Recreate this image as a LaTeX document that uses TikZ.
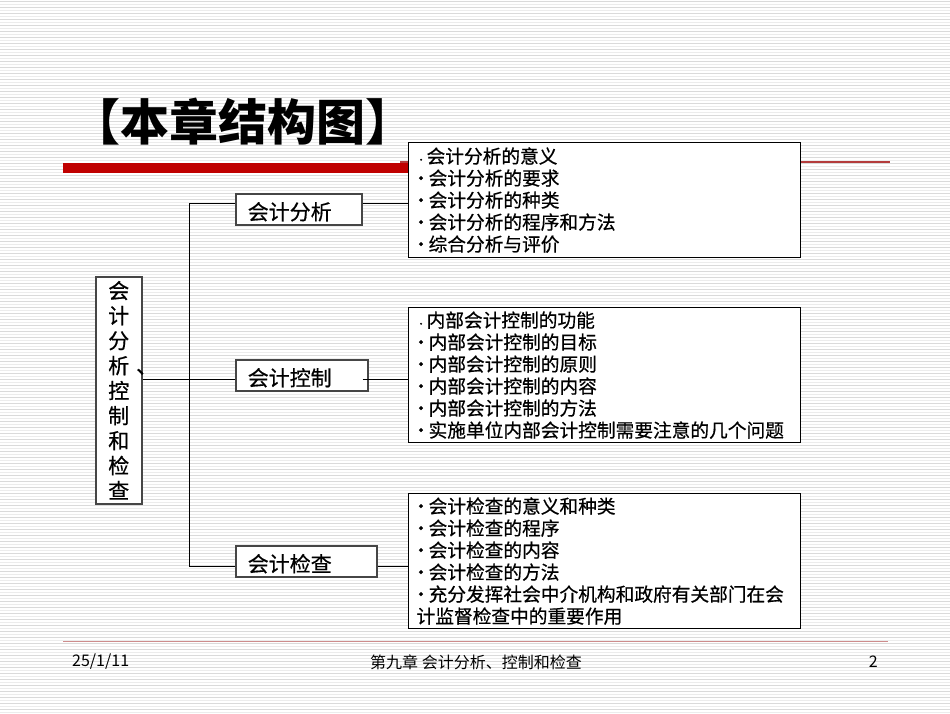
\documentclass[tikz,border=0pt]{standalone}
\usepackage{fontspec}
\setmainfont{Noto Sans CJK SC}
\newfontfamily\hv{Noto Sans CJK SC}[FakeBold=0.6]
\definecolor{barred}{RGB}{192,0,0}
\definecolor{thinred}{RGB}{180,60,60}
\definecolor{footred}{RGB}{205,140,140}
\definecolor{stripeA}{RGB}{218,218,218}
\definecolor{stripeB}{RGB}{236,236,236}
\definecolor{subborder}{RGB}{70,70,70}
\newcommand\bl{\makebox[12pt][l]{\hspace{-5pt}·}}
\newcommand\sbl{\makebox[10pt][l]{\fontsize{9}{9}\selectfont·}}
\tikzset{
  listbox/.style={draw=black, line width=1.2pt, fill=white, anchor=north west,
    minimum width=392pt, inner xsep=8pt, inner ysep=1pt, text width=376pt, align=left,
    font=\hv\fontsize{18.7}{22}\selectfont},
  subbox/.style={draw=subborder, line width=1.5pt, fill=white, anchor=north west,
    minimum height=31pt, inner xsep=12pt, inner ysep=0.5pt, align=left,
    text height=24pt, text depth=3pt, font=\hv\fontsize{21}{24}\selectfont},
  mainbox/.style={draw=subborder, line width=1.5pt, fill=white, anchor=north west,
    minimum width=46pt, minimum height=227pt, inner sep=0pt, align=center,
    font=\hv\fontsize{21}{25}\selectfont},
  conn/.style={draw=black, line width=1pt},
}
\begin{document}
\begin{tikzpicture}[x=1pt,y=-1pt]
\useasboundingbox (0,0) rectangle (950,713);
\fill[white] (0,0) rectangle (950,713);
\foreach \yy in {1.5,7.5,...,713} \draw[stripeA, line width=1pt] (0,\yy) -- (950,\yy);
\foreach \yy in {4.5,10.5,...,713} \draw[stripeB, line width=1pt] (0,\yy) -- (950,\yy);

% title and red bar
\fill[barred] (63,163) rectangle (412,173);
\draw[thinred, line width=1.3pt] (400,162) -- (890,162);
\node[anchor=west, inner sep=0pt, font=\fontsize{49}{52}\selectfont\bfseries] (title) at (71,122) {【本章结构图】};

% content boxes
\node[listbox, minimum height=115pt] (la) at (408,142) {\sbl 会计分析的意义\\ \bl 会计分析的要求\\ \bl 会计分析的种类\\ \bl 会计分析的程序和方法\\ \bl 综合分析与评价};
\node[listbox, minimum height=135pt] (lc) at (408,307) {\sbl 内部会计控制的功能\\ \bl 内部会计控制的目标\\ \bl 内部会计控制的原则\\ \bl 内部会计控制的内容\\ \bl 内部会计控制的方法\\ \bl 实施单位内部会计控制需要注意的几个问题};
\node[listbox, minimum height=135pt] (le) at (408,493) {\bl 会计检查的意义和种类\\ \bl 会计检查的程序\\ \bl 会计检查的内容\\ \bl 会计检查的方法\\ \bl 充分发挥社会中介机构和政府有关部门在会\\ 计监督检查中的重要作用};

% sub boxes
\node[subbox, minimum width=126pt, text width=102pt] (sa) at (235,193) {会计分析};
\node[subbox, minimum width=132pt, text width=108pt] (sc) at (235,359) {会计控制};
\node[subbox, minimum width=141pt, text width=117pt] (se) at (235,545) {会计检查};

% main box
\node[mainbox] (main) at (95,276) {会\\计\\分\\析\rlap{\hspace{7pt}、}\\控\\制\\和\\检\\查};

% connectors
\coordinate (ja) at (189,203);
\coordinate (jc) at (189,379);
\coordinate (je) at (189,566);
\draw[conn] (main.east |- jc) -- (sc.west |- jc);
\draw[conn] (ja) -- (je);
\draw[conn] (ja) -- (sa.west |- ja);
\draw[conn] (je) -- (se.west |- je);
\draw[conn] (sa.east |- ja) -- (la.west |- ja);
\draw[conn] ([xshift=-6pt]sc.east |- jc) -- (lc.west |- jc);
\draw[conn] (se.east |- je) -- (le.west |- je);

% footer
\draw[footred, line width=1pt] (63,641) -- (888,641);
\node[anchor=west, inner sep=0pt, font=\fontsize{16}{18}\selectfont] (date) at (72,662) {25/1/11};
\node[inner sep=0pt, font=\fontsize{16}{18}\selectfont] (chap) at (476,662) {第九章 会计分析、控制和检查};
\node[anchor=east, inner sep=0pt, font=\fontsize{16}{18}\selectfont] (page) at (878,662) {2};
\end{tikzpicture}
\end{document}
